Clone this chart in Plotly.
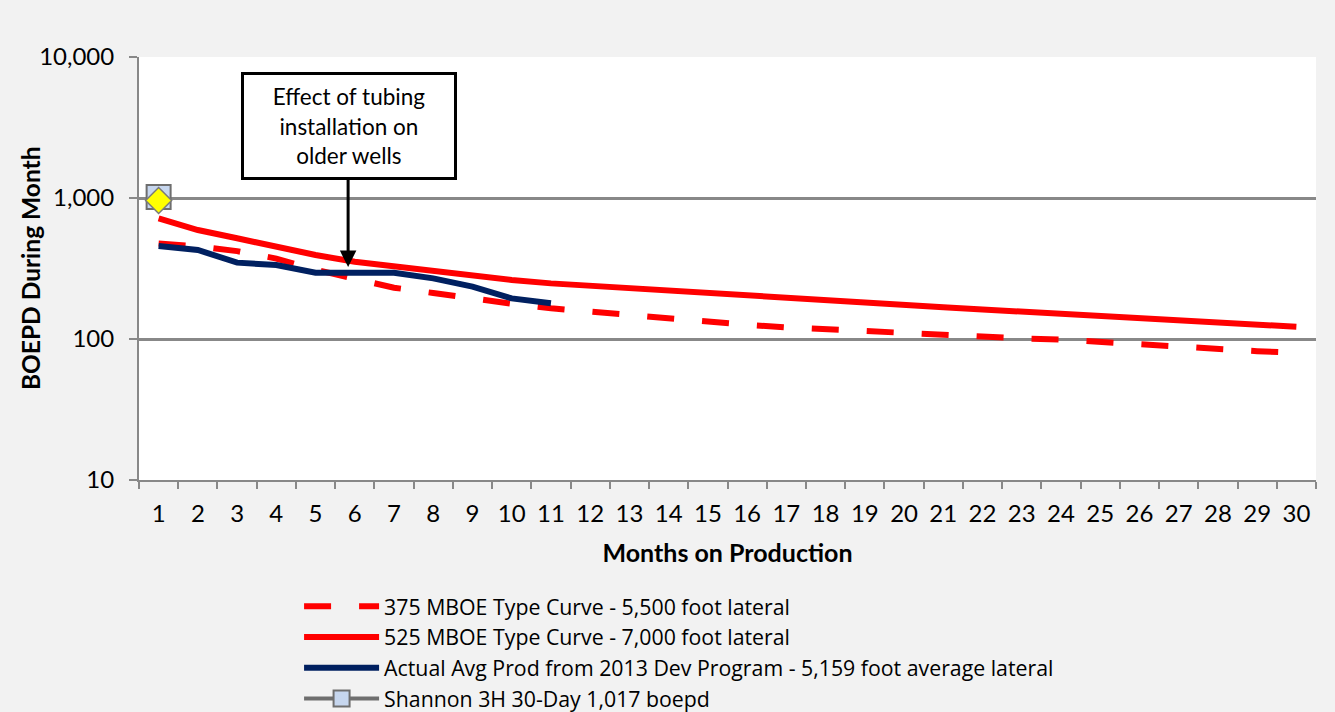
import plotly.graph_objects as go

months = list(range(1, 31))

# 375 MBOE type curve (5,500 ft lateral), BOEPD by month
type_375 = [475, 455, 420, 372, 310, 268, 231, 212, 193, 178,
            165, 156, 147, 139, 132, 126, 121, 117, 113, 110,
            107, 104, 101, 99, 95, 91, 88, 85, 82, 80]

# 525 MBOE type curve (7,000 ft lateral), BOEPD by month
type_525 = [718, 593, 518, 447, 394, 353, 326, 300, 280, 262,
            248, 238, 228, 219, 211, 204, 196, 189, 182, 175,
            168, 162, 156, 151, 146, 141, 136, 131, 127, 122]

# Actual average production, 2013 development program
actual_months = list(range(1, 12))
actual_avg = [457, 428, 348, 335, 295, 292, 295, 269, 235, 194, 179]

# Shannon 3H 30-day rate
shannon_month = [1]
shannon_rate = [1017]
marker_month = [1]
marker_rate = [960]

y_ticks = [10, 100, 1000, 10000]
y_tick_text = ["10", "100", "1,000", "10,000"]

FONT = "Lato"
GRID = "#888888"

fig = go.Figure()

fig.add_trace(go.Scatter(
    x=months, y=type_375, mode="lines",
    name="375 MBOE Type Curve - 5,500 foot lateral",
    line=dict(color="#ff0000", width=6, dash="27px,28px"),
))
fig.add_trace(go.Scatter(
    x=months, y=type_525, mode="lines",
    name="525 MBOE Type Curve - 7,000 foot lateral",
    line=dict(color="#ff0000", width=6),
))
fig.add_trace(go.Scatter(
    x=actual_months, y=actual_avg, mode="lines",
    name="Actual Avg Prod from 2013 Dev Program - 5,159 foot average lateral",
    line=dict(color="#002060", width=6),
))
fig.add_trace(go.Scatter(
    x=shannon_month, y=shannon_rate, mode="lines+markers",
    name="Shannon 3H 30-Day 1,017 boepd",
    line=dict(color="#6e6e6e", width=4),
    marker=dict(symbol="square", size=24, color="#c6d6ee",
                line=dict(color="#6e6e6e", width=2)),
))
fig.add_trace(go.Scatter(
    x=marker_month, y=marker_rate, mode="markers",
    showlegend=False,
    marker=dict(symbol="diamond", size=20, color="#ffff00",
                line=dict(color="#7a7a7a", width=1.5)),
))

# callout box
fig.add_annotation(
    xref="paper", yref="paper", x=0.1785, y=0.838,
    xanchor="center", yanchor="middle",
    text="Effect of tubing<br>installation on<br>older wells",
    showarrow=False, align="center",
    font=dict(family=FONT, size=22.5, color="#000000"),
    bgcolor="#ffffff", bordercolor="#000000", borderwidth=3,
    width=208, height=100,
)
# callout arrow
fig.add_annotation(
    x=5.83, y=2.51, xref="x", yref="y",
    showarrow=True, ax=0, ay=-89, text="",
    arrowhead=2, arrowsize=1.1, arrowwidth=3, arrowcolor="#000000",
)
# y-axis title
fig.add_annotation(
    xref="paper", yref="paper", x=-0.0926, y=0.501,
    xanchor="center", yanchor="middle", textangle=-90,
    text="<b>BOEPD During Month</b>", showarrow=False,
    font=dict(family=FONT, size=24.5, color="#000000"),
)

fig.update_layout(
    width=1335, height=712,
    paper_bgcolor="#f2f2f2", plot_bgcolor="#ffffff",
    margin=dict(l=139, r=19, t=57, b=232, autoexpand=False),
    font=dict(family=FONT, color="#000000"),
    showlegend=True,
    legend=dict(
        x=0.136, xanchor="left", yref="container", y=0.177, yanchor="top",
        bgcolor="rgba(0,0,0,0)", font=dict(family="Open Sans", size=21.3),
        itemwidth=75, tracegroupgap=0,
    ),
    xaxis=dict(
        range=[0.5, 30.5], tickmode="array", tickvals=months,
        ticktext=[str(m) for m in months], ticks="",
        tickfont=dict(size=24), ticklabelstandoff=11,
        showgrid=False, zeroline=False, automargin=False,
        showline=True, linecolor=GRID, linewidth=2,
        minor=dict(tickmode="linear", tick0=0.5, dtick=1, ticks="outside",
                   ticklen=7, tickwidth=2, tickcolor=GRID, showgrid=False),
        title=dict(text="<b>Months on Production</b>", font=dict(size=25),
                   standoff=19),
    ),
    yaxis=dict(
        type="log", range=[1, 4], tickmode="array",
        tickvals=y_ticks, ticktext=y_tick_text,
        tickfont=dict(size=24), ticks="outside", ticklen=8, tickwidth=2,
        tickcolor=GRID, ticklabelstandoff=10, automargin=False,
        showgrid=True, gridcolor=GRID, gridwidth=2.5,
        zeroline=False, showline=True, linecolor=GRID, linewidth=2,
    ),
)

fig.write_html("out.html")
